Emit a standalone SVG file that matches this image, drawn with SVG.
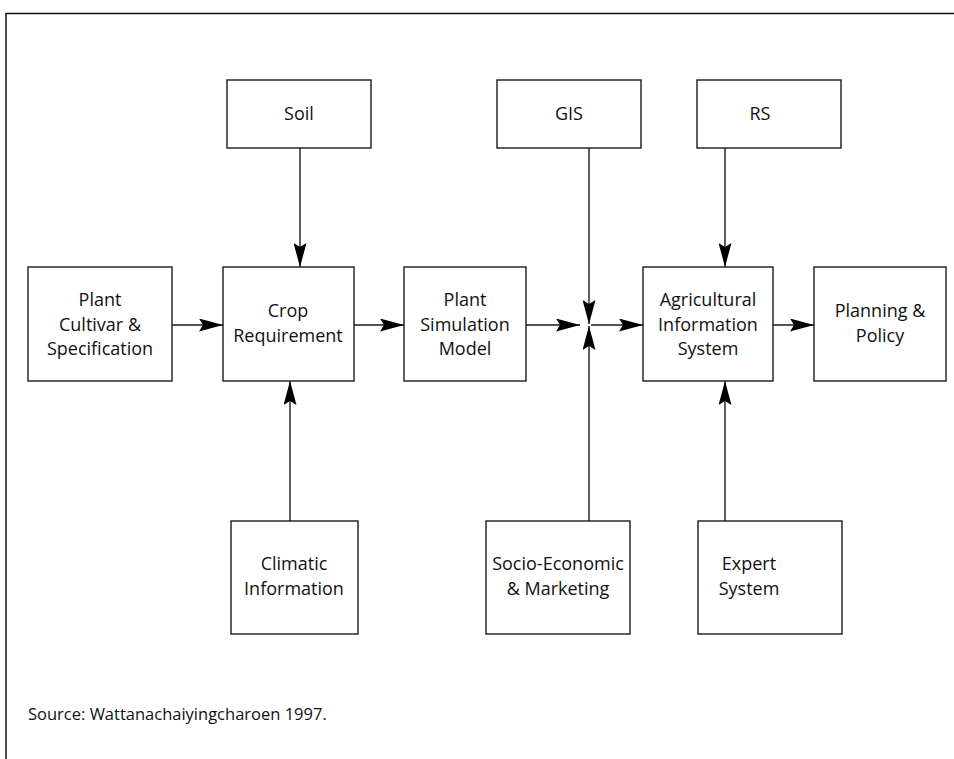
<svg xmlns="http://www.w3.org/2000/svg" width="954" height="759" viewBox="0 0 954 759">
<style>
.box{fill:#fff;stroke:#1a1a1a;stroke-width:1.4}
.t{font-family:"Open Sans","Noto Sans",sans-serif;font-size:18px;fill:#111;text-anchor:middle}
.ln{stroke:#1a1a1a;stroke-width:1.4;fill:none}
</style>
<defs>
<marker id="ah" markerWidth="24" markerHeight="13" refX="24" refY="6.5" orient="auto" markerUnits="userSpaceOnUse">
<path d="M0,0 L24,6.5 L0,13 L4,6.5 Z" fill="#000"/>
</marker>
</defs>
<rect x="0" y="0" width="954" height="759" fill="#fff"/>
<path d="M6,759 V13.5 H954" fill="none" stroke="#111" stroke-width="1.5"/>
<g id="soil"><rect class="box" x="227" y="80" width="144" height="68"/><text class="t" x="299" y="120">Soil</text></g>
<g id="gis"><rect class="box" x="497" y="80" width="144" height="68"/><text class="t" x="569" y="120">GIS</text></g>
<g id="rs"><rect class="box" x="697" y="80" width="144" height="68"/><text class="t" x="760" y="120">RS</text></g>
<g id="plant-cultivar"><rect class="box" x="28" y="267" width="144" height="114"/><text class="t" x="100" y="306">Plant</text><text class="t" x="100" y="331">Cultivar &amp;</text><text class="t" x="100" y="355">Specification</text></g>
<g id="crop-req"><rect class="box" x="223" y="267" width="131" height="114"/><text class="t" x="288" y="317">Crop</text><text class="t" x="288" y="342">Requirement</text></g>
<g id="plant-sim"><rect class="box" x="404" y="267" width="122" height="114"/><text class="t" x="465" y="306">Plant</text><text class="t" x="465" y="331">Simulation</text><text class="t" x="465" y="355">Model</text></g>
<g id="ais"><rect class="box" x="643" y="267" width="130" height="114"/><text class="t" x="708" y="306">Agricultural</text><text class="t" x="708" y="331">Information</text><text class="t" x="708" y="355">System</text></g>
<g id="planning"><rect class="box" x="814" y="267" width="132" height="114"/><text class="t" x="880" y="317">Planning &amp;</text><text class="t" x="880" y="342">Policy</text></g>
<g id="climatic"><rect class="box" x="231" y="521" width="127" height="113"/><text class="t" x="294" y="570">Climatic</text><text class="t" x="294" y="595">Information</text></g>
<g id="socio"><rect class="box" x="486" y="521" width="144" height="113"/><text class="t" x="558" y="570">Socio-Economic</text><text class="t" x="558" y="595">&amp; Marketing</text></g>
<g id="expert"><rect class="box" x="698" y="521" width="144" height="113"/><text class="t" x="749" y="570">Expert</text><text class="t" x="749" y="595">System</text></g>
<g id="connectors">
<line class="ln" x1="300" y1="148" x2="300" y2="267" marker-end="url(#ah)"/>
<line class="ln" x1="290" y1="521" x2="290" y2="381" marker-end="url(#ah)"/>
<line class="ln" x1="589" y1="148" x2="589" y2="324" marker-end="url(#ah)"/>
<line class="ln" x1="589" y1="521" x2="589" y2="326" marker-end="url(#ah)"/>
<line class="ln" x1="725" y1="148" x2="725" y2="267" marker-end="url(#ah)"/>
<line class="ln" x1="725" y1="521" x2="725" y2="381" marker-end="url(#ah)"/>
<line class="ln" x1="172" y1="325" x2="223" y2="325" marker-end="url(#ah)"/>
<line class="ln" x1="354" y1="325" x2="404" y2="325" marker-end="url(#ah)"/>
<line class="ln" x1="526" y1="325" x2="580" y2="325" marker-end="url(#ah)"/>
<line class="ln" x1="591" y1="325" x2="643" y2="325" marker-end="url(#ah)"/>
<line class="ln" x1="773" y1="325" x2="814" y2="325" marker-end="url(#ah)"/>
</g>
<text x="28" y="720" style="font-family:'Open Sans','Noto Sans',sans-serif;font-size:16.5px;fill:#111">Source: Wattanachaiyingcharoen 1997.</text>
</svg>
